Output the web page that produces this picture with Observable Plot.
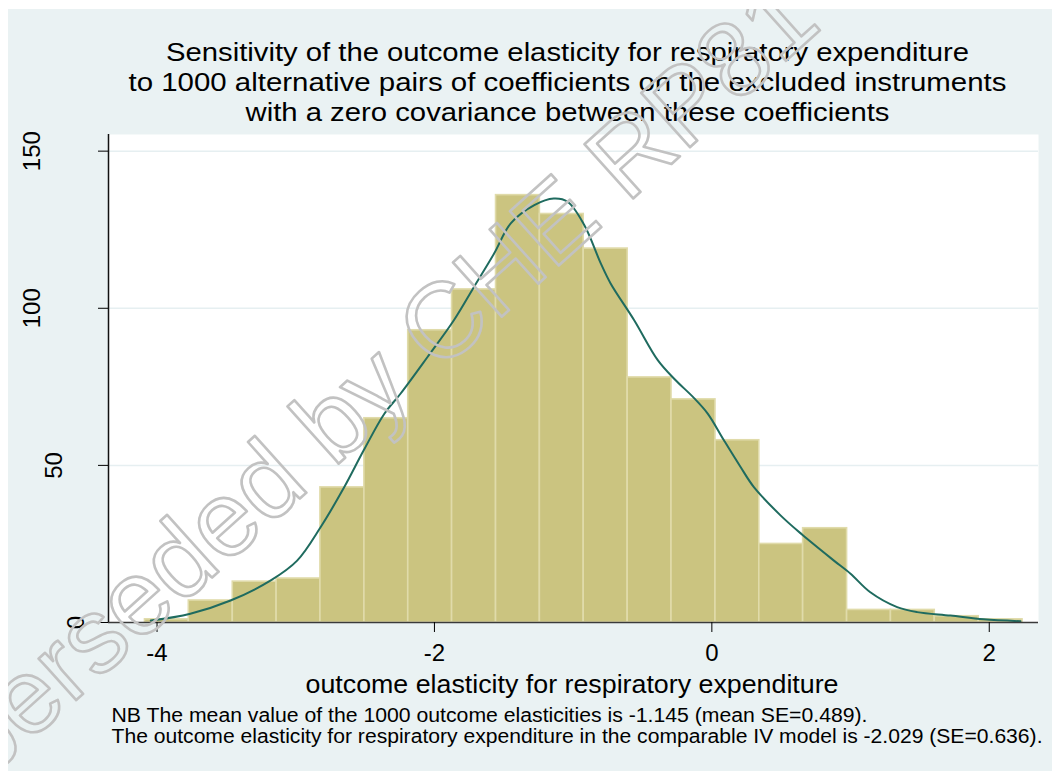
<!DOCTYPE html>
<html><head><meta charset="utf-8">
<script src="https://cdn.jsdelivr.net/npm/d3@7"></script>
<script src="https://cdn.jsdelivr.net/npm/@observablehq/plot@0.6"></script>
<style>
html,body{margin:0;padding:0;background:#fff;}
#wrap{position:absolute;left:8px;top:9px;width:1044px;height:762px;background:#eaf2f3;overflow:hidden}
</style></head><body><div id="wrap"></div>
<script>
// ---- data ----
const binEdges = [-4.087, -3.771, -3.454, -3.138, -2.822, -2.505, -2.189, -1.873, -1.556, -1.240,
  -0.924, -0.607, -0.291, 0.026, 0.342, 0.658, 0.975, 1.291, 1.607, 1.924, 2.240];
const binCounts = [1, 7, 13, 14, 43, 65, 93, 106, 136, 130, 119, 78, 71, 58, 25, 30, 4, 4, 2, 1];

const densityX = [-4.045, -3.76, -3.47, -3.18, -2.99, -2.82, -2.65, -2.51, -2.36, -2.245, -2.05, -1.86,
  -1.715, -1.57, -1.45, -1.28, -1.14, -1.04, -0.92, -0.80, -0.73, -0.56, -0.39, -0.27, -0.13, -0.03,
  0.087, 0.207, 0.303, 0.495, 0.65, 0.88, 1.0, 1.14, 1.336, 1.48, 1.72, 1.96, 2.225];
const densityY = [0.6, 2.8, 7, 13.4, 19.7, 30.4, 43.1, 54.8, 66.5, 72.8, 84.5, 96.2,
  106.8, 117.4, 127, 132.8, 134.9, 133.9, 126.5, 114.2, 107.9, 96.2, 83.5, 77.5, 71.5, 66.5,
  58, 49.5, 43.1, 34.1, 28, 19.7, 15.5, 9.7, 4.9, 3.3, 2.2, 1.0, 0.4];

const xTicks = [-4, -2, 0, 2];
const xTickLabels = ["-4", "-2", "0", "2"];
const yTicks = [0, 50, 100, 150];
const yTickLabels = ["0", "50", "100", "150"];

const titleLines = [
  "Sensitivity of the outcome elasticity for respiratory expenditure",
  "to 1000 alternative pairs of coefficients on the excluded instruments",
  "with a zero covariance between these coefficients"
];
const xAxisTitle = "outcome elasticity for respiratory expenditure";
const noteLines = [
  "NB The mean value of the 1000 outcome elasticities is -1.145 (mean SE=0.489).",
  "The outcome elasticity for respiratory expenditure in the comparable IV model is -2.029 (SE=0.636)."
];
const watermark = "Superseded by CHE RP81";

const xDomain = [-4.35, 2.355];
const yDomain = [0, 155.3];

// ---- build ----
const bins = binCounts.map((c, i) => ({x1: binEdges[i], x2: binEdges[i + 1], count: c}));
const density = densityX.map((x, i) => ({x, y: densityY[i]}));
const yLab = yTicks.map((v, i) => ({v, label: yTickLabels[i]}));
const font = "'Liberation Sans', Arial, Helvetica, sans-serif";

const chart = Plot.plot({
  width: 1044, height: 762,
  marginLeft: 100, marginRight: 14, marginTop: 125, marginBottom: 149,
  style: {background: "transparent", fontFamily: font, overflow: "visible", color: "#000"},
  x: {domain: xDomain},
  y: {domain: yDomain},
  marks: [
    Plot.frame({fill: "white", stroke: "none"}),
    Plot.gridY(yTicks.filter(d => d > 0), {stroke: "#e6eff1", strokeOpacity: 1, strokeWidth: 1.5}),
    Plot.rectY(bins, {x1: "x1", x2: "x2", y: "count", fill: "#cbc480", stroke: "#e0dbaa", strokeWidth: 1.6}),
    Plot.line(density, {x: "x", y: "y", curve: "catmull-rom", stroke: "#1f6b5f", strokeWidth: 2}),
    Plot.ruleY([0], {stroke: "#3a3a3a", strokeWidth: 1.5}),
    Plot.ruleX([xDomain[0]], {stroke: "#111", strokeWidth: 1.5}),
    Plot.axisX({ticks: xTicks, tickSize: 10, tickPadding: 11, fontSize: 24,
      tickFormat: d => xTickLabels[xTicks.indexOf(d)], label: null}),
    Plot.axisY({ticks: yTicks, tickSize: 10, tickFormat: () => "", label: null}),
    ...[1, 2, 3].map(n => Plot.text(yLab.filter(d => d.label.length === n), {
      y: "v", text: "label", frameAnchor: "left", dx: -10 - 22 * n, rotate: -90,
      fontSize: 24, textAnchor: "middle", lineAnchor: "middle"
    })),
    ...titleLines.map((t, i) => Plot.text([t], {text: d => d, frameAnchor: "top", dx: -6, dy: -74 + 30 * i,
      fontSize: 26, lineAnchor: "bottom"})),
    Plot.text([xAxisTitle], {text: d => d, frameAnchor: "bottom", dx: -1.5, dy: 70, fontSize: 25, lineAnchor: "bottom"}),
    ...noteLines.map((t, i) => Plot.text([t], {text: d => d, frameAnchor: "bottom-left", dx: 3, dy: 99 + 21 * i,
      fontSize: 19.5, textAnchor: "start", lineAnchor: "bottom"})),
    Plot.text([watermark], {text: d => d, frameAnchor: "top-left", dx: 224, dy: 289, rotate: -42,
      fontSize: 106, fill: "none", stroke: "#c2c2c2", strokeWidth: 2.6, textAnchor: "middle", lineAnchor: "middle"})
  ]
});

// fit text widths to the reference
const targetWidths = new Map([
  [titleLines[0], 803], [titleLines[1], 878], [titleLines[2], 644],
  [xAxisTitle, 533], [noteLines[0], 756], [noteLines[1], 931]
]);
chart.querySelectorAll("text").forEach(el => {
  const w = targetWidths.get(el.textContent.trim());
  if (w) { el.setAttribute("textLength", w); el.setAttribute("lengthAdjust", "spacingAndGlyphs"); }
});
document.getElementById("wrap").appendChild(chart);
</script></body></html>
